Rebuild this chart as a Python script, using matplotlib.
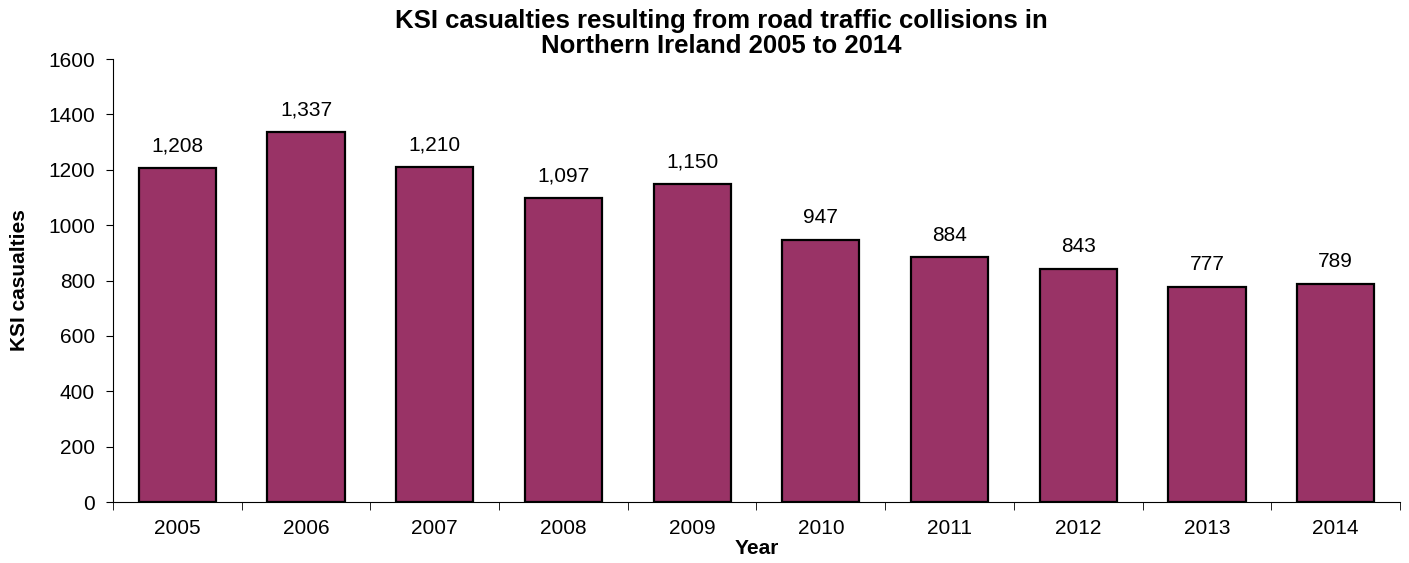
import numpy as np
import matplotlib
matplotlib.use("Agg")
import matplotlib.pyplot as plt

plt.rcParams['font.family'] = ['Liberation Sans', 'DejaVu Sans']

years = ["2005", "2006", "2007", "2008", "2009", "2010", "2011", "2012", "2013", "2014"]
ksi = [1208, 1337, 1210, 1097, 1150, 947, 884, 843, 777, 789]

fig = plt.figure(figsize=(14.09, 5.63), dpi=100)
ax = fig.add_axes([0.0802, 0.1083, 0.9134, 0.7869])

x = np.arange(len(years))
bars = ax.bar(x, ksi, width=0.6, color="#993366", edgecolor="black", linewidth=1.6)
for xi, v in zip(x, ksi):
    ax.text(xi, v + 45, f"{v:,}", ha="center", va="bottom", fontsize=15)

ax.set_xlim(-0.5, len(years) - 0.5)
ax.set_ylim(0, 1600)
ax.set_yticks(np.arange(0, 1601, 200))
ax.tick_params(axis="y", labelsize=15, length=5, direction="out", pad=8)

ax.set_xticks(x)
ax.set_xticklabels(years)
ax.set_xticks(np.arange(-0.5, len(years), 1), minor=True)
ax.tick_params(axis="x", which="major", length=0, labelsize=15, pad=12)
ax.tick_params(axis="x", which="minor", length=6, direction="out")

for s in ["top", "right"]:
    ax.spines[s].set_visible(False)

ax.set_xlabel("Year", fontsize=15, fontweight="bold", labelpad=1)
ax.set_ylabel("KSI casualties", fontsize=15, fontweight="bold", labelpad=14)

fig.text(0.512, 0.984, "KSI casualties resulting from road traffic collisions in\nNorthern Ireland 2005 to 2014",
         ha="center", va="top", fontsize=18.5, fontweight="bold", linespacing=1.05)

fig.savefig("out.png", dpi=100)
